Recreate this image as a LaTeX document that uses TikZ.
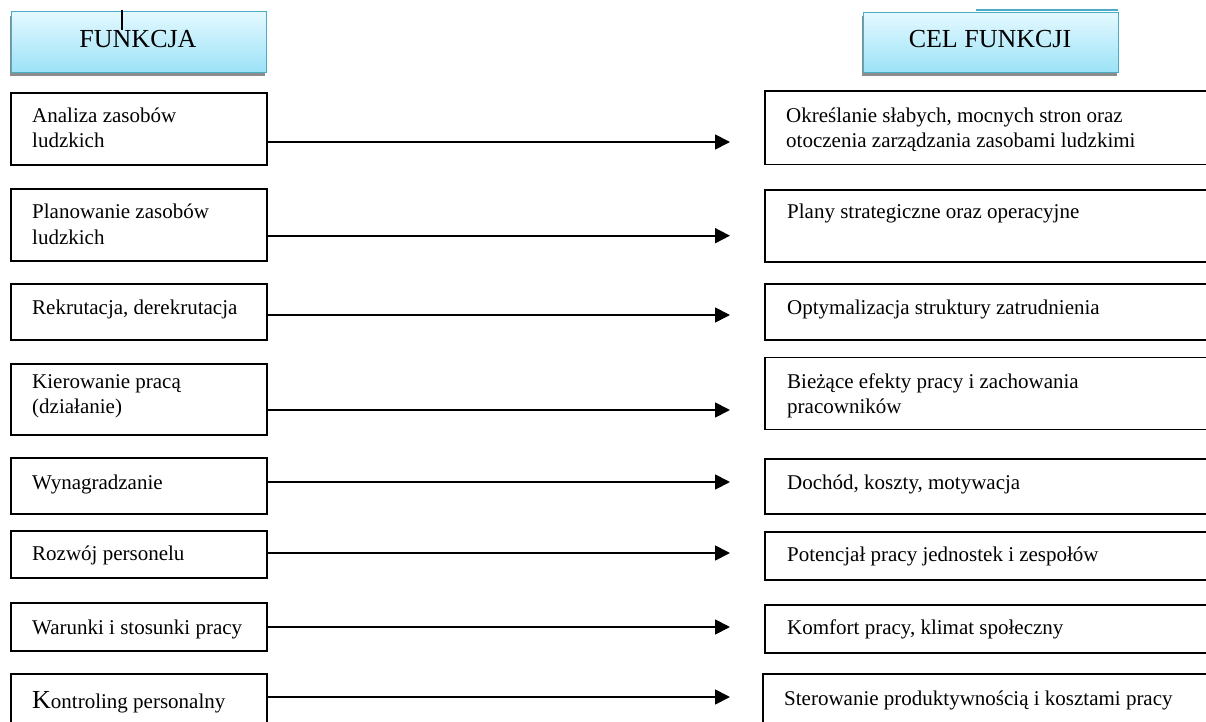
\documentclass[tikz,border=0pt]{standalone}
\usepackage{fontspec}
\setmainfont{Liberation Serif}
\usetikzlibrary{arrows.meta}
\definecolor{hdrline}{RGB}{75,172,198}
\definecolor{hdrtop}{RGB}{228,249,255}
\definecolor{hdrbot}{RGB}{155,226,247}
\tikzset{
  hdrbox/.style={rectangle, anchor=north west, inner sep=0pt, draw=hdrline, line width=1.6bp,
    top color=hdrtop, bottom color=hdrbot},
  hdrtext/.style={anchor=base, inner sep=0pt, font=\fontsize{26bp}{30bp}\selectfont},
  itembox/.style={rectangle, anchor=north west, inner sep=0pt, draw=black, line width=1.8bp},
  % base west of a multi-line node sits on its last line
  itemtext/.style={anchor=base west, inner sep=0pt, align=left, font=\fontsize{21bp}{25bp}\selectfont},
  link/.style={draw=black, line width=1.8bp, -{Triangle[length=15bp,width=15bp]}, shorten >=34bp},
}
\begin{document}
\begin{tikzpicture}[x=1bp, y=-1bp]
\clip (0,0) rectangle (1206,722);
\fill[white] (0,0) rectangle (1206,722);

% column headers with drop shadow
\fill[black!45] (10,16) rectangle (265,76.5);
\fill[black!45] (862,16) rectangle (1117,76.5);
\node[hdrbox, minimum width=255bp, minimum height=61bp] (h1) at (10.7,10.7) {};
\node[hdrbox, minimum width=255bp, minimum height=60bp] (h2) at (862.7,11.7) {};
\draw[hdrline, line width=1.6bp] (976,10) -- (1118,10);
\node[hdrtext] (h1t) at (138,47.5) {FUNKCJA};
\node[hdrtext] (h2t) at (990,47.5) {CEL FUNKCJI};
\draw[black, line width=1.2bp] (122,10) -- (122,30);

% left column: functions
\node[itembox, minimum width=256bp, minimum height=72bp] (l1) at (10,92) {};
\node[itembox, minimum width=256bp, minimum height=72bp] (l2) at (10,188) {};
\node[itembox, minimum width=256bp, minimum height=56bp] (l3) at (10,283) {};
\node[itembox, minimum width=256bp, minimum height=71bp] (l4) at (10,363) {};
\node[itembox, minimum width=256bp, minimum height=56bp] (l5) at (10,457) {};
\node[itembox, minimum width=256bp, minimum height=47bp] (l6) at (10,530) {};
\node[itembox, minimum width=256bp, minimum height=48bp] (l7) at (10,602) {};
\node[itembox, minimum width=256bp, minimum height=80bp] (l8) at (10,673) {};

\node[itemtext] (lt1) at (32,148) {Analiza zasobów\\ludzkich};
\node[itemtext] (lt2) at (32,244) {Planowanie zasobów\\ludzkich};
\node[itemtext] (lt3) at (32,314) {Rekrutacja, derekrutacja};
\node[itemtext] (lt4) at (32,413) {Kierowanie pracą\\(działanie)};
\node[itemtext] (lt5) at (32,489) {Wynagradzanie};
\node[itemtext] (lt6) at (32,560) {Rozwój personelu};
\node[itemtext] (lt7) at (32,634) {Warunki i stosunki pracy};
\node[itemtext] (lt8) at (32,708) {{\fontsize{26bp}{25bp}\selectfont K}ontroling personalny};

% right column: goals
\node[itembox, minimum width=480bp, minimum height=73bp] (r1) at (764,90.5) {};
\node[itembox, minimum width=480bp, minimum height=72bp] (r2) at (764,189) {};
\node[itembox, minimum width=480bp, minimum height=56bp] (r3) at (764,283) {};
\node[itembox, minimum width=480bp, minimum height=72bp] (r4) at (764,356.5) {};
\node[itembox, minimum width=480bp, minimum height=55bp] (r5) at (764,458) {};
\node[itembox, minimum width=480bp, minimum height=48bp] (r6) at (764,531) {};
\node[itembox, minimum width=480bp, minimum height=48bp] (r7) at (764,604) {};
\node[itembox, minimum width=480bp, minimum height=80bp] (r8) at (762,673) {};

\node[itemtext] (rt1) at (786,148) {Określanie słabych, mocnych stron oraz\\otoczenia zarządzania zasobami ludzkimi};
\node[itemtext] (rt2) at (787,219) {Plany strategiczne oraz operacyjne};
\node[itemtext] (rt3) at (787,314) {Optymalizacja struktury zatrudnienia};
\node[itemtext] (rt4) at (787,413) {Bieżące efekty pracy i zachowania\\pracowników};
\node[itemtext] (rt5) at (787,489) {Dochód, koszty, motywacja};
\node[itemtext] (rt6) at (787,561) {Potencjał pracy jednostek i zespołów};
\node[itemtext] (rt7) at (787,634) {Komfort pracy, klimat społeczny};
\node[itemtext] (rt8) at (784,705) {Sterowanie produktywnością i kosztami pracy};

% connector heights
\coordinate (a1) at (0,142);
\coordinate (a2) at (0,235.7);
\coordinate (a3) at (0,315);
\coordinate (a4) at (0,410);
\coordinate (a5) at (0,482);
\coordinate (a6) at (0,553);
\coordinate (a7) at (0,627);
\coordinate (a8) at (0,697);

\draw[link] (l1.east |- a1) -- (r1.west |- a1);
\draw[link] (l2.east |- a2) -- (r2.west |- a2);
\draw[link] (l3.east |- a3) -- (r3.west |- a3);
\draw[link] (l4.east |- a4) -- (r4.west |- a4);
\draw[link] (l5.east |- a5) -- (r5.west |- a5);
\draw[link] (l6.east |- a6) -- (r6.west |- a6);
\draw[link] (l7.east |- a7) -- (r7.west |- a7);
\draw[link, shorten >=32bp] (l8.east |- a8) -- (r8.west |- a8);
\end{tikzpicture}
\end{document}
